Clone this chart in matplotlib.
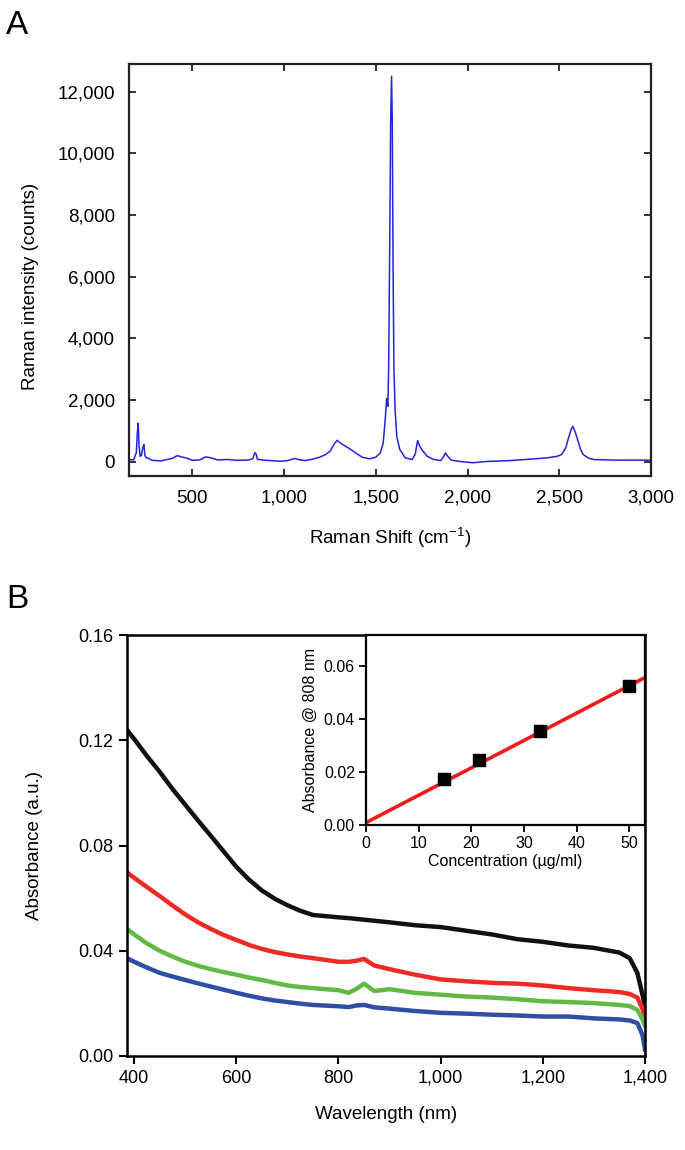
import matplotlib
matplotlib.use('Agg')
import matplotlib.pyplot as plt
import numpy as np

plt.rcParams['font.family'] = ['Liberation Sans', 'DejaVu Sans']
plt.rcParams['mathtext.fontset'] = 'custom'
plt.rcParams['mathtext.rm'] = 'Liberation Sans'
plt.rcParams['mathtext.it'] = 'Liberation Sans:italic'

# ── Panel A: Raman spectrum ──────────────────────────────────────────────────
raman_shift = [157, 180, 195, 200, 205, 210, 216, 222, 230, 236, 242, 250, 263, 280,
               302, 330, 360, 390, 418, 440, 470, 500, 540, 573, 600, 640, 690, 740,
               805, 830, 841, 848, 855, 900, 979, 1020, 1058, 1080, 1115, 1160, 1194,
               1225, 1252, 1275, 1291, 1300, 1320, 1345, 1369, 1400, 1426, 1466, 1500,
               1525, 1540, 1547, 1553, 1559, 1563, 1566, 1570, 1576, 1581, 1586, 1590,
               1594, 1599, 1606, 1615, 1631, 1660, 1698, 1715, 1728, 1740, 1757, 1780,
               1815, 1854, 1868, 1879, 1892, 1912, 1960, 2029, 2100, 2241, 2350, 2436,
               2490, 2513, 2535, 2548, 2565, 2573, 2585, 2600, 2615, 2630, 2660, 2687,
               2800, 3000]
raman_counts = [75, 60, 300, 900, 1250, 500, 180, 200, 450, 560, 200, 130, 110, 50,
                40, 30, 70, 110, 200, 160, 120, 50, 60, 160, 130, 60, 75, 50,
                55, 100, 300, 250, 80, 50, 20, 40, 110, 70, 40, 90, 150,
                230, 350, 600, 700, 640, 560, 470, 380, 250, 150, 97, 150,
                290, 600, 1050, 1500, 2050, 1900, 1800, 3000, 7000, 11000, 12500, 11000,
                6500, 3000, 1600, 800, 400, 130, 75, 250, 690, 500, 345, 180,
                75, 43, 150, 290, 180, 54, 10, -30, 10, 43, 90, 130,
                180, 240, 450, 724, 1050, 1150, 1000, 724, 420, 238, 120, 75,
                55, 54]
raman_xticks = [500, 1000, 1500, 2000, 2500, 3000]
raman_xlabels = ['500', '1,000', '1,500', '2,000', '2,500', '3,000']
raman_yticks = [0, 2000, 4000, 6000, 8000, 10000, 12000]
raman_ylabels = ['0', '2,000', '4,000', '6,000', '8,000', '10,000', '12,000']

# ── Panel B: absorbance spectra ──────────────────────────────────────────────
wavelength = [386, 400, 425, 450, 475, 500, 525, 550, 575, 600, 625, 650, 675, 700,
              725, 750, 800, 820, 835, 850, 870, 900, 950, 1000, 1050, 1100, 1150,
              1200, 1250, 1300, 1350, 1370, 1385, 1395, 1400]
abs_black = [.1239, .1205, .1140, .108, .1015, .0955, .0895, .0837, .0778, .0719, .0670,
             .0629, .0598, .0573, .0552, .0536, .0527, .0524, .0521, .0518, .0514, .0508,
             .0497, .049, .0476, .0462, .0444, .0434, .042, .0411, .0393, .0372, .0316,
             .0233, .019]
abs_red = [.0698, .0677, .0642, .0608, .0572, .0538, .0508, .0483, .0460, .0441, .0422,
           .0407, .0395, .0386, .0378, .0372, .0358, .0358, .0362, .0369, .0344, .033,
           .0309, .0291, .0284, .0278, .0275, .0268, .0258, .025, .0243, .0236, .0222,
           .018, .015]
abs_green = [.0483, .0462, .0428, .040, .0378, .0358, .0343, .033, .0319, .0309, .0298,
             .0289, .0278, .0268, .0262, .0258, .025, .024, .0255, .0275, .0247, .0254,
             .024, .0233, .0226, .0222, .0216, .0208, .0205, .0201, .0194, .019, .0175,
             .014, .0115]
abs_blue = [.0372, .0358, .0336, .0316, .0302, .0289, .0276, .0264, .0252, .024, .0229,
            .0219, .0211, .0205, .0199, .0194, .0189, .0186, .0192, .0194, .0185, .018,
            .0171, .0164, .0161, .0157, .0154, .015, .015, .0143, .0139, .0135, .0125,
            .008, .0025]
series_colors = ['#111111', '#ee2a24', '#62b946', '#2e4fa3']
abs_xticks = [400, 600, 800, 1000, 1200, 1400]
abs_xlabels = ['400', '600', '800', '1,000', '1,200', '1,400']
abs_yticks = [0.0, 0.04, 0.08, 0.12, 0.16]
abs_ylabels = ['0.00', '0.04', '0.08', '0.12', '0.16']

# ── Inset: calibration ───────────────────────────────────────────────────────
conc = [14.8, 21.4, 33.0, 49.9]
abs_808 = [0.0174, 0.0244, 0.0352, 0.0524]
fit_slope, fit_intercept = 0.00103, 0.0009
inset_xticks = [0, 10, 20, 30, 40, 50]
inset_yticks = [0.0, 0.02, 0.04, 0.06]
inset_ylabels = ['0.00', '0.02', '0.04', '0.06']

W, H = 685, 1150
fig = plt.figure(figsize=(W / 100, H / 100), dpi=100)
fig.patch.set_facecolor('white')


def box(l, t, r, b):
    return [l / W, 1 - b / H, (r - l) / W, (b - t) / H]


# ── A ────────────────────────────────────────────────────────────────────────
axA = fig.add_axes(box(129, 64, 651, 476))
axA.plot(raman_shift, raman_counts, color='#2424e0', lw=1.1)
axA.set_xlim(155, 3000)
axA.set_ylim(-460, 12900)
axA.set_xticks(raman_xticks)
axA.set_xticklabels(raman_xlabels)
axA.set_yticks(raman_yticks)
axA.set_yticklabels(raman_ylabels)
axA.tick_params(direction='in', top=True, right=True, length=5, width=1.3,
                labelsize=13.5, pad=10, color='#222222')
for s in axA.spines.values():
    s.set_linewidth(1.6)
    s.set_color('#222222')
axA.set_xlabel(r'Raman Shift (cm$^{-1}$)', fontsize=13.5, labelpad=14)
axA.set_ylabel('Raman intensity (counts)', fontsize=13.5)
axA.yaxis.set_label_coords(-0.172, 0.46)
fig.text(17 / W, 1 - 26 / H, 'A', fontsize=24, ha='center', va='center')

# ── B ────────────────────────────────────────────────────────────────────────
axB = fig.add_axes(box(127, 635, 645, 1056))
for ys, c in zip([abs_black, abs_red, abs_green, abs_blue], series_colors):
    axB.plot(wavelength, ys, color=c, lw=3.2, solid_joinstyle='round')
axB.set_xlim(386, 1400)
axB.set_ylim(0, 0.16)
axB.set_xticks(abs_xticks)
axB.set_xticklabels(abs_xlabels)
axB.set_yticks(abs_yticks)
axB.set_yticklabels(abs_ylabels)
axB.tick_params(direction='out', length=6, width=1.5, labelsize=13, pad=4)
for s in axB.spines.values():
    s.set_linewidth(1.8)
axB.set_xlabel('Wavelength (nm)', fontsize=13.5, labelpad=14)
axB.set_ylabel('Absorbance (a.u.)', fontsize=13.5, labelpad=25)
fig.text(17 / W, 1 - 600 / H, 'B', fontsize=24, ha='center', va='center')

# ── Inset ────────────────────────────────────────────────────────────────────
axI = fig.add_axes(box(366, 635, 645, 825))
fx = np.array([0, 53])
axI.plot(fx, fit_slope * fx + fit_intercept, color='#ee1c1c', lw=2.6, zorder=2)
axI.scatter(conc, abs_808, marker='s', s=70, color='black', zorder=3)
axI.set_xlim(0, 53)
axI.set_ylim(0, 0.0715)
axI.set_xticks(inset_xticks)
axI.set_yticks(inset_yticks)
axI.set_yticklabels(inset_ylabels)
axI.tick_params(direction='out', length=5, width=1.3, labelsize=11.5, pad=3)
for s in axI.spines.values():
    s.set_linewidth(1.6)
axI.set_xlabel('Concentration (µg/ml)', fontsize=11.5, labelpad=2)
axI.set_ylabel('Absorbance @ 808 nm', fontsize=11.5, labelpad=4)

fig.savefig('out.png', dpi=100, facecolor='white')
